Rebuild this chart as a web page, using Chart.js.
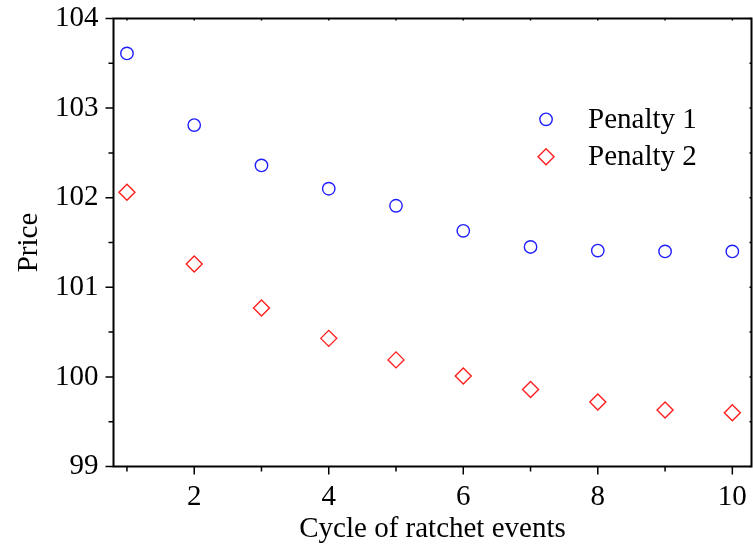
<!DOCTYPE html>
<html>
<head>
<meta charset="utf-8">
<script src="https://cdn.jsdelivr.net/npm/chart.js@4/dist/chart.umd.min.js"></script>
<style>
  html, body { margin: 0; padding: 0; background: #fff; }
  #wrap { width: 753px; height: 552px; }
</style>
</head>
<body>
<div id="wrap"><canvas id="priceChart"></canvas></div>
<script>
// cycle number on the x axis
const cycles = [1, 2, 3, 4, 5, 6, 7, 8, 9, 10]
const penalty1 = [103.61, 102.81, 102.36, 102.10, 101.91, 101.63, 101.45, 101.41, 101.40, 101.40]
const penalty2 = [102.06, 101.26, 100.77, 100.43, 100.19, 100.01, 99.86, 99.72, 99.63, 99.60]

const xTickLabels = [2, 4, 6, 8, 10]
const xMinorTicks = [1, 3, 5, 7, 9]
const yTickLabels = [99, 100, 101, 102, 103, 104]
const yMinorTicks = [99.5, 100.5, 101.5, 102.5, 103.5]

const serif = "'Liberation Serif', 'Times New Roman', serif"

function toPoints(ys) {
  return cycles.map((c, i) => ({ x: c, y: ys[i] }))
}

const data = {
  datasets: [
    {
      label: 'Penalty 1',
      data: toPoints(penalty1),
      pointStyle: 'circle',
      pointRadius: 6.2,
      pointBorderColor: 'rgb(30,30,255)',
      pointBackgroundColor: 'rgba(0,0,0,0)',
      pointBorderWidth: 1.4,
      showLine: false,
    },
    {
      label: 'Penalty 2',
      data: toPoints(penalty2),
      pointStyle: 'rectRot',
      pointRadius: 8,
      pointBorderColor: 'rgb(255,30,30)',
      pointBackgroundColor: 'rgba(0,0,0,0)',
      pointBorderWidth: 1.4,
      showLine: false,
    },
  ],
}

// frame, tick marks and legend drawn on top of the scales
const framePlugin = {
  id: 'frame',
  afterDraw(chart) {
    const ctx = chart.ctx
    const a = chart.chartArea
    const xs = chart.scales.x
    const ys = chart.scales.y
    ctx.save()
    ctx.strokeStyle = '#000'
    ctx.lineWidth = 2
    ctx.strokeRect(a.left, a.top, a.right - a.left, a.bottom - a.top)

    ctx.lineWidth = 1.5
    ctx.beginPath()
    xTickLabels.forEach(v => {
      const px = xs.getPixelForValue(v)
      ctx.moveTo(px, a.bottom); ctx.lineTo(px, a.bottom + 8)
      ctx.moveTo(px, a.top); ctx.lineTo(px, a.top + 2)
    })
    xMinorTicks.forEach(v => {
      const px = xs.getPixelForValue(v)
      ctx.moveTo(px, a.bottom); ctx.lineTo(px, a.bottom + 5)
      ctx.moveTo(px, a.top); ctx.lineTo(px, a.top + 2)
    })
    yTickLabels.forEach(v => {
      const py = ys.getPixelForValue(v)
      ctx.moveTo(a.left - 8, py); ctx.lineTo(a.left, py)
      ctx.moveTo(a.right - 2, py); ctx.lineTo(a.right, py)
    })
    yMinorTicks.forEach(v => {
      const py = ys.getPixelForValue(v)
      ctx.moveTo(a.left - 5, py); ctx.lineTo(a.left, py)
      ctx.moveTo(a.right - 2, py); ctx.lineTo(a.right, py)
    })
    ctx.stroke()

    // legend inside the plot
    const lx = a.left + (a.right - a.left) * 0.678
    const ly = a.top + (a.bottom - a.top) * 0.225
    chart.data.datasets.forEach((ds, i) => {
      const y = ly + i * 37.5
      ctx.lineWidth = ds.pointBorderWidth
      ctx.strokeStyle = ds.pointBorderColor
      ctx.fillStyle = 'rgba(0,0,0,0)'
      Chart.helpers.drawPoint(ctx, {
        pointStyle: ds.pointStyle,
        radius: ds.pointRadius,
        borderWidth: ds.pointBorderWidth,
        rotation: 0,
      }, lx, y)
      ctx.fillStyle = '#000'
      ctx.font = '29px ' + serif
      ctx.textBaseline = 'middle'
      ctx.textAlign = 'left'
      ctx.fillText(ds.label, lx + 42, y + 1)
    })
    ctx.restore()
  },
}

const config = {
  type: 'scatter',
  data: data,
  options: {
    responsive: true,
    maintainAspectRatio: false,
    animation: false,
    layout: { autoPadding: false, padding: { top: 18.5, right: 1.5, left: 0, bottom: 0 } },
    plugins: {
      legend: { display: false },
      tooltip: { enabled: false },
    },
    scales: {
      x: {
        type: 'linear',
        min: 0.8,
        max: 10.285,
        grid: { display: false },
        border: { display: false },
        afterBuildTicks: s => { s.ticks = xTickLabels.map(v => ({ value: v })) },
        afterFit: s => { s.height = 85.5; s.paddingLeft = 0; s.paddingRight = 0 },
        ticks: {
          color: '#000',
          font: { family: serif, size: 29 },
          padding: 5,
          maxRotation: 0,
          autoSkip: false,
        },
        title: {
          display: true,
          text: 'Cycle of ratchet events',
          color: '#000',
          font: { family: serif, size: 29 },
          padding: { top: 0, bottom: 5 },
        },
      },
      y: {
        min: 99,
        max: 104,
        grid: { display: false },
        border: { display: false },
        afterBuildTicks: s => { s.ticks = yTickLabels.map(v => ({ value: v })) },
        afterFit: s => { s.width = 113.5; s.paddingTop = 0; s.paddingBottom = 0 },
        ticks: {
          color: '#000',
          font: { family: serif, size: 29 },
          padding: 7,
          autoSkip: false,
        },
        title: {
          display: true,
          text: 'Price',
          color: '#000',
          font: { family: serif, size: 29 },
          padding: { top: 12, bottom: 0 },
        },
      },
    },
  },
  plugins: [framePlugin],
}

const canvas = document.getElementById('priceChart')
const chart = new Chart(canvas, config)
</script>
</body>
</html>
